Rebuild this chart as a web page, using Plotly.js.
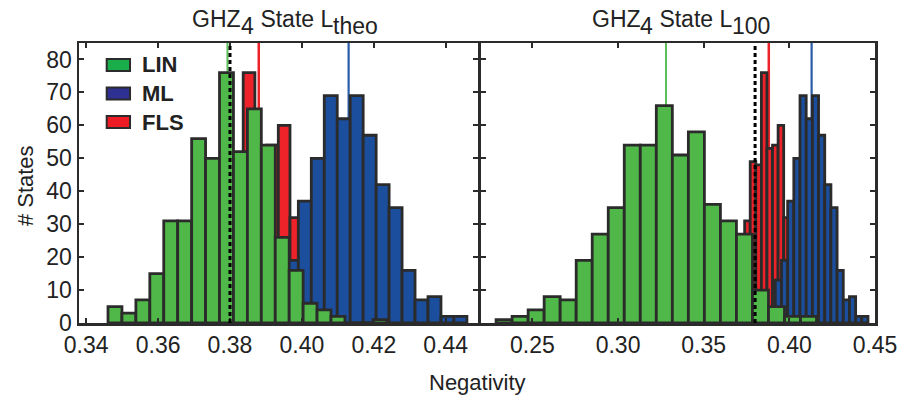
<!DOCTYPE html>
<html>
<head>
<meta charset="utf-8">
<script src="https://cdn.plot.ly/plotly-3.0.1.min.js"></script>
<style>html,body{margin:0;padding:0;background:#fff;}#chart{width:904px;height:404px;}</style>
</head>
<body>
<div id="chart"></div>
<script>
// ---- Data (histogram bin counts) ----
// Left panel: GHZ4 State L_theo
const linStartTheo = 0.34607;   // first LIN bin edge
const linWidthTheo = 0.003877;  // LIN bin width
const linCountsTheo = [5, 3, 7, 15, 31, 31, 56, 50, 76, 52, 65, 54, 26, 16, 6, 4, 2, 0, 0, 1];

// Right panel: GHZ4 State L_100
const linStart100 = 0.22882;
const linWidth100 = 0.009353;
const linCounts100 = [1, 2, 4, 8, 7, 19, 27, 35, 54, 54, 66, 51, 58, 36, 31, 27, 10, 5, 2, 2];

// ML and FLS (same in both panels)
const mlStart = 0.3918;
const mlWidth = 0.003607;
const mlCounts = [13, 19, 37, 50, 69, 62, 69, 57, 42, 35, 16, 7, 8, 2, 2];

const flsStart = 0.37391;
const flsWidth = 0.003255;
const flsCounts = [31, 49, 48, 76, 53, 54, 60, 32];

// Mean values (vertical lines) and threshold
const linMeanTheo = 0.3793;
const linMean100 = 0.328;
const mlMean = 0.413;
const flsMean = 0.388;
const threshold = 0.38;

const leftTicks = [0.34, 0.36, 0.38, 0.40, 0.42, 0.44];
const rightTicks = [0.25, 0.30, 0.35, 0.40, 0.45];
const yTicks = [0, 10, 20, 30, 40, 50, 60, 70, 80];

const seriesNames = ['LIN', 'ML', 'FLS'];
// titles as [text, isSubscript] pieces
const titleLeft = [['GHZ', false], ['4', true], ['\u00a0State L', false], ['theo', true]];
const titleRight = [['GHZ', false], ['4', true], ['\u00a0State L', false], ['100', true]];
const xTitle = 'Negativity';
const yTitle = '# States';

// ---- Styles ----
const cGreen = '#50b848', cBlue = '#1b4f9e', cRed = '#ee2229';
const legGreen = '#1aae4b', legBlue = '#2e3192', legRed = '#ed1c24';
const outline = '#2b2b2b';
const textCol = '#222222';
const FONT = 'Liberation Sans, Arial, sans-serif';
const TSIZE = 23;

const W = 904, H = 404;
const M = {l: 79, r: 29, t: 43, b: 81};
const plotW = W - M.l - M.r, plotH = H - M.t - M.b;

function centers(start, width, counts) {
  return counts.map((_, i) => start + width * (i + 0.5));
}
function barTrace(start, width, counts, color, name, xa, ya) {
  return {
    type: 'bar', name: name, showlegend: false,
    x: centers(start, width, counts), y: counts, width: width,
    xaxis: xa, yaxis: ya,
    marker: {color: color, line: {color: outline, width: 2.8}},
    hoverinfo: 'x+y'
  };
}

const data = [
  barTrace(flsStart, flsWidth, flsCounts, cRed, 'FLS', 'x', 'y'),
  barTrace(mlStart, mlWidth, mlCounts, cBlue, 'ML', 'x', 'y'),
  barTrace(linStartTheo, linWidthTheo, linCountsTheo, cGreen, 'LIN', 'x', 'y'),
  barTrace(flsStart, flsWidth, flsCounts, cRed, 'FLS', 'x2', 'y2'),
  barTrace(mlStart, mlWidth, mlCounts, cBlue, 'ML', 'x2', 'y2'),
  barTrace(linStart100, linWidth100, linCounts100, cGreen, 'LIN', 'x2', 'y2')
];

function vline(xv, xref, yref, color, width, dash, layer) {
  return {type: 'line', xref: xref, yref: yref + ' domain', x0: xv, x1: xv, y0: 0, y1: 1,
          layer: layer, line: {color: color, width: width, dash: dash}};
}

const shapes = [
  vline(linMeanTheo, 'x', 'y', '#5cbf5c', 2, 'solid', 'below'),
  vline(flsMean, 'x', 'y', cRed, 2.5, 'solid', 'below'),
  vline(mlMean, 'x', 'y', '#2a5ca8', 2.2, 'solid', 'below'),
  vline(threshold, 'x', 'y', '#000', 3, '4px,3px', 'above'),
  vline(linMean100, 'x2', 'y2', '#5cbf5c', 2, 'solid', 'below'),
  vline(flsMean, 'x2', 'y2', cRed, 2.5, 'solid', 'below'),
  vline(mlMean, 'x2', 'y2', '#2a5ca8', 2.2, 'solid', 'below'),
  vline(threshold, 'x2', 'y2', '#000', 3, '4px,3px', 'above')
];

// manual legend (swatch + label)
const legColors = [legGreen, legBlue, legRed];
const annotations = [];
seriesNames.forEach((nm, i) => {
  const yTop = 0.943 - i * 0.102;
  shapes.push({type: 'rect', xref: 'paper', yref: 'paper', x0: 0.0348, x1: 0.0641,
               y0: yTop - 0.043, y1: yTop, layer: 'above',
               fillcolor: legColors[i], line: {color: outline, width: 2}});
  annotations.push({xref: 'paper', yref: 'paper', x: 0.0766, y: yTop - 0.0215,
                    xanchor: 'left', yanchor: 'middle', showarrow: false,
                    text: '<b>' + nm + '</b>', font: {family: FONT, size: 22, color: textCol}});
});

// titles with full-size subscripts: measure pieces and place them side by side
const ctx = document.createElement('canvas').getContext('2d');
ctx.font = TSIZE + 'px "Liberation Sans", Arial, sans-serif';
function addTitle(pieces, centerPx, baselinePx) {
  const widths = pieces.map(p => ctx.measureText(p[0]).width);
  const total = widths.reduce((a, b) => a + b, 0);
  let xpx = centerPx - total / 2;
  pieces.forEach((p, i) => {
    annotations.push({
      xref: 'paper', yref: 'paper',
      x: (xpx - M.l) / plotW, y: (H - M.b - baselinePx) / plotH,
      xanchor: 'left', yanchor: 'middle', showarrow: false, borderpad: 0,
      yshift: p[1] ? -7 : 0,
      text: p[0], font: {family: FONT, size: TSIZE, color: textCol}
    });
    xpx += widths[i];
  });
}
addTitle(titleLeft, 284, 19);
addTitle(titleRight, 680, 19);

annotations.push({xref: 'paper', yref: 'paper', x: 0.5, y: -0.213, xanchor: 'center', yanchor: 'middle',
                  showarrow: false, text: xTitle, font: {family: FONT, size: 22, color: textCol}});
annotations.push({xref: 'paper', yref: 'paper', x: -0.068, y: 0.492, xanchor: 'center', yanchor: 'middle',
                  showarrow: false, textangle: -90, text: yTitle, font: {family: FONT, size: 22, color: textCol}});

const axisCommon = {
  showline: true, linecolor: outline, linewidth: 2.5, mirror: 'ticks',
  ticks: 'inside', ticklen: 5, tickwidth: 2, tickcolor: outline,
  showgrid: false, zeroline: false,
  tickfont: {family: FONT, size: 23, color: textCol}
};

const layout = {
  width: W, height: H,
  margin: {l: M.l, r: M.r, t: M.t, b: M.b, pad: 0},
  paper_bgcolor: '#fff', plot_bgcolor: '#fff',
  barmode: 'overlay', bargap: 0,
  showlegend: false,
  xaxis: Object.assign({}, axisCommon, {domain: [0, 0.5013], range: [0.338, 0.449],
          tickmode: 'array', tickvals: leftTicks, ticktext: leftTicks.map(v => v.toFixed(2)), anchor: 'y'}),
  xaxis2: Object.assign({}, axisCommon, {domain: [0.505, 1], range: [0.22, 0.45],
          tickmode: 'array', tickvals: rightTicks, ticktext: rightTicks.map(v => v.toFixed(2)), anchor: 'y2'}),
  yaxis: Object.assign({}, axisCommon, {domain: [0, 1], range: [0, 85],
          tickmode: 'array', tickvals: yTicks, anchor: 'x'}),
  yaxis2: Object.assign({}, axisCommon, {domain: [0, 1], range: [0, 85],
          tickmode: 'array', tickvals: yTicks, showticklabels: false, anchor: 'x2'}),
  shapes: shapes,
  annotations: annotations
};

Plotly.newPlot('chart', data, layout, {displayModeBar: false, staticPlot: true});
</script>
</body>
</html>
